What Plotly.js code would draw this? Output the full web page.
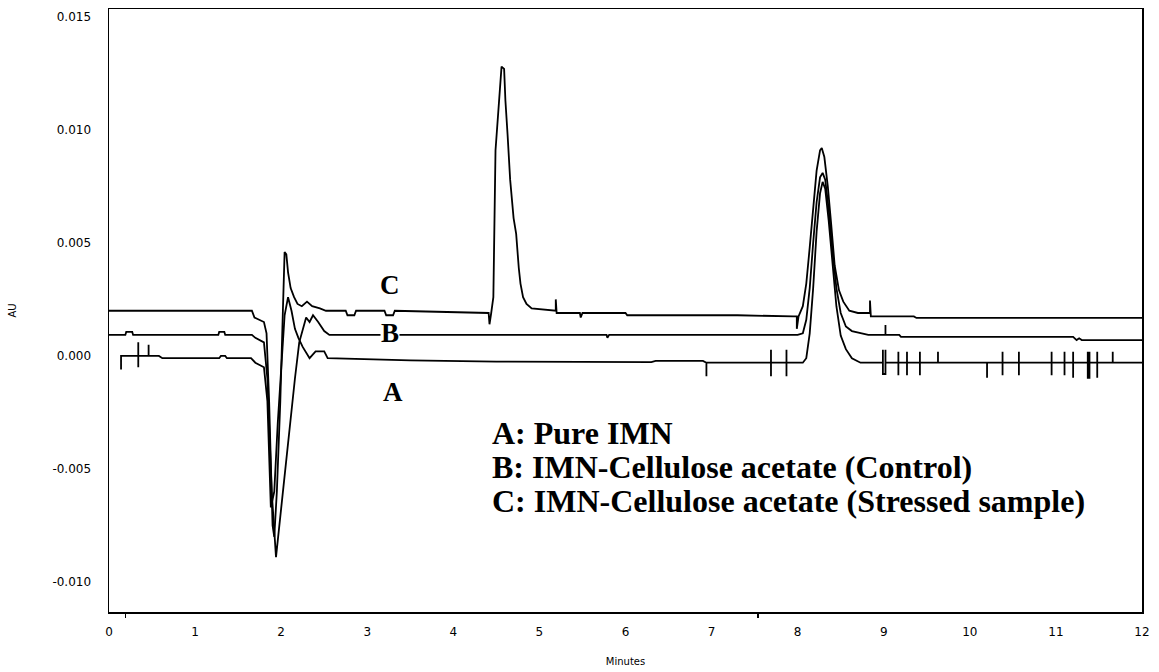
<!DOCTYPE html>
<html>
<head>
<meta charset="utf-8">
<script src="https://cdn.plot.ly/plotly-3.0.1.min.js"></script>
<style>html,body{margin:0;padding:0;background:#fff;}#chart{width:1159px;height:672px;}</style>
</head>
<body>
<div id="chart"></div>
<script>
// Trace A: Pure IMN (minutes, AU)
const aX = [0.14,0.14,0.34,0.34,0.34,0.34,0.46,0.46,0.46,0.58,0.62,1.28,1.30,1.35,1.37,1.65,1.70,1.80,1.84,1.88,1.92,1.96,2.00,2.04,2.08,2.12,2.16,2.20,2.25,2.33,2.40,2.50,2.54,3.5,4.5,6.3,6.35,6.9,
  6.94,6.94,6.94,7.69,7.69,7.69,7.69,7.87,7.87,7.87,7.87,
  8.06,8.10,8.14,8.18,8.22,8.26,8.29,8.32,8.36,8.40,8.45,8.50,8.56,8.63,8.73,
  8.99,8.99,8.99,9.02,9.02,9.02,9.17,9.17,9.17,9.17,9.27,9.27,9.27,9.27,9.42,9.42,9.42,9.42,9.63,9.63,9.63,
  10.20,10.20,10.20,10.38,10.38,10.38,10.38,10.57,10.57,10.57,10.57,10.95,10.95,10.95,10.95,11.10,11.10,11.10,11.10,
  11.20,11.20,11.20,11.20,11.37,11.37,11.37,11.39,11.39,11.39,11.48,11.48,11.48,11.48,11.66,11.66,11.66,12.0];
const aY = [-0.0006,0.0000,0.0000,0.0006,-0.0005,0.0000,0.0000,0.0005,0.0000,0.0000,-0.0001,-0.0001,0.0000,0.0000,-0.0001,-0.0001,-0.0003,-0.0005,-0.0020,-0.0067,-0.0060,-0.0030,-0.0005,0.0018,0.0026,0.0020,0.0012,0.0008,0.0004,-0.0001,0.0002,0.0002,-0.0001,-0.0002,-0.00025,-0.00027,-0.00022,-0.00022,
  -0.0003,-0.0009,-0.0003,-0.0003,0.00027,-0.0009,-0.0003,-0.0003,0.00027,-0.0009,-0.0003,
  -0.0003,-0.0001,0.0010,0.0030,0.0055,0.0072,0.0077,0.0074,0.0060,0.0042,0.0022,0.0009,0.0003,-0.0001,-0.0003,
  -0.0003,0.00027,-0.0008,-0.0008,0.00027,-0.0003,-0.0003,0.00018,-0.00085,-0.0003,-0.0003,0.00018,-0.00085,-0.0003,-0.0003,0.00018,-0.00085,-0.0003,-0.0003,0.00018,-0.0003,
  -0.0003,-0.00097,-0.0003,-0.0003,0.00018,-0.00085,-0.0003,-0.0003,0.00018,-0.00085,-0.0003,-0.0003,0.00018,-0.00085,-0.0003,-0.0003,0.00018,-0.00085,-0.0003,
  -0.0003,0.00018,-0.00097,-0.0003,-0.0003,0.00018,-0.00097,-0.00097,0.00018,-0.0003,-0.0003,0.00018,-0.00097,-0.0003,-0.0003,0.00018,-0.0003,-0.0003];

// Trace B: IMN-Cellulose acetate (Control)
const bX = [0.0,0.19,0.20,0.27,0.28,1.27,1.28,1.34,1.35,1.66,1.70,1.80,1.84,1.89,1.94,1.97,2.00,2.04,2.10,2.16,2.21,2.25,2.29,2.33,2.37,2.43,2.50,2.56,5.78,5.79,5.81,
  8.00,8.06,8.10,8.14,8.18,8.22,8.26,8.29,8.32,8.36,8.40,8.45,8.50,8.56,8.63,8.75,8.82,9.02,9.02,9.02,9.18,9.20,11.20,11.24,11.27,11.30,12.0];
const bY = [0.00093,0.00093,0.00106,0.00106,0.00093,0.00093,0.00106,0.00106,0.00093,0.00093,0.0008,0.0006,-0.0010,-0.0060,-0.0089,-0.0078,-0.0067,-0.0052,-0.0032,-0.0010,0.0006,0.0012,0.0017,0.0015,0.0018,0.0015,0.0011,0.00093,0.00093,0.0008,0.00093,
  0.00093,0.0010,0.0016,0.0030,0.0050,0.0068,0.0079,0.0081,0.0078,0.0065,0.0048,0.0030,0.0019,0.0013,0.0011,0.0010,0.00093,0.00093,0.00137,0.00093,0.00093,0.00084,0.00084,0.0007,0.00078,0.0007,0.0007];

// Trace C: IMN-Cellulose acetate (Stressed sample)
const cX = [0.0,1.66,1.69,1.80,1.83,1.86,1.90,1.92,1.95,1.99,2.02,2.04,2.06,2.08,2.11,2.15,2.19,2.24,2.30,2.36,2.45,2.52,2.75,2.77,2.85,2.87,3.20,3.22,3.30,3.32,
  4.41,4.42,4.44,4.465,4.49,4.535,4.56,4.59,4.605,4.63,4.66,4.70,4.73,4.76,4.78,4.81,4.85,4.91,5.12,5.19,5.19,5.20,5.47,5.48,5.50,6.0,6.02,7.3,
  7.95,7.99,7.99,8.01,8.06,8.10,8.14,8.18,8.22,8.26,8.28,8.31,8.35,8.39,8.43,8.48,8.53,8.60,8.70,8.84,8.84,8.85,9.35,9.38,12.0];
const cY = [0.0020,0.0020,0.0017,0.0015,0.0010,-0.0020,-0.0075,-0.0080,-0.0060,-0.0020,0.0020,0.0046,0.0045,0.0037,0.0030,0.0026,0.0023,0.0022,0.0024,0.0022,0.0021,0.0020,0.0020,0.0018,0.0018,0.0020,0.0020,0.0018,0.0018,0.0020,
  0.0019,0.0014,0.0019,0.0026,0.0091,0.0115,0.0128,0.0127,0.0113,0.0098,0.0078,0.0061,0.0054,0.0039,0.0032,0.0026,0.0023,0.0021,0.0020,0.0020,0.0025,0.0019,0.0019,0.0017,0.0019,0.0019,0.0018,0.0018,
  0.00175,0.00175,0.0012,0.00175,0.0022,0.0032,0.0048,0.0067,0.0082,0.0091,0.0092,0.0088,0.0075,0.0058,0.0040,0.0029,0.0024,0.0020,0.0019,0.0019,0.00245,0.00175,0.00175,0.00168,0.00168];

const xTickVals = [0,1,2,3,4,5,6,7,8,9,10,11,12];
const xTickText = ["0","1","2","3","4","5","6","7","8","9","10","11","12"];
const yTickVals = [0.015,0.010,0.005,0.000,-0.005,-0.010];
const yTickText = ["0.015","0.010","0.005","0.000","-0.005","-0.010"];
const minorTickVals = [0.19,7.54];

const traceLabels = ["A","B","C"];
const labelX = [3.30,3.26,3.26];
const labelY = [-0.0016,0.00102,0.00314];
const legendLines = ["A: Pure IMN","B: IMN-Cellulose acetate (Control)","C: IMN-Cellulose acetate (Stressed sample)"];
const legendY = [-0.0034,-0.0049,-0.0064];

const lineStyle = {color:'#000', width:1.8};
const traces = [
  {x:aX, y:aY, type:'scatter', mode:'lines', line:lineStyle, hoverinfo:'skip', name:'A'},
  {x:bX, y:bY, type:'scatter', mode:'lines', line:lineStyle, hoverinfo:'skip', name:'B'},
  {x:cX, y:cY, type:'scatter', mode:'lines', line:lineStyle, hoverinfo:'skip', name:'C'}
];

const serifFam = '"Liberation Serif", "Times New Roman", serif';
const labelFont = {family:serifFam, size:27, color:'#000', weight:'bold'};
const legendFont = {family:serifFam, size:32, color:'#000', weight:'bold'};
const annotations = [];
traceLabels.forEach((t,i)=>annotations.push({x:labelX[i], y:labelY[i], xref:'x', yref:'y', text:'<b>'+t+'</b>', showarrow:false, font:labelFont, bgcolor:'#fff', borderpad:0}));
legendLines.forEach((t,i)=>annotations.push({x:4.43, y:legendY[i], xref:'x', yref:'y', xanchor:'left', text:'<b>'+t+'</b>', showarrow:false, font:legendFont}));

const tickFont = {family:'"DejaVu Sans", Arial, sans-serif', size:12, color:'#000'};
const layout = {
  width:1159, height:672,
  margin:{l:109, r:17, t:9, b:60},
  paper_bgcolor:'#fff', plot_bgcolor:'#fff',
  showlegend:false,
  xaxis:{range:[0,12], tickmode:'array', tickvals:xTickVals, ticktext:xTickText, ticks:'', showgrid:false, zeroline:false,
    showline:true, mirror:true, linecolor:'#000', linewidth:1.5, tickfont:tickFont, ticklabelstandoff:8,
    minor:{tickmode:'array', tickvals:minorTickVals, ticks:'outside', ticklen:4, tickwidth:1.5, tickcolor:'#000', showgrid:false},
    title:{text:'Minutes', font:{family:'"DejaVu Sans", Arial, sans-serif', size:10, color:'#000'}, standoff:20}},
  yaxis:{range:[-0.01133,0.01535], tickmode:'array', tickvals:yTickVals, ticktext:yTickText, ticks:'', showgrid:false, zeroline:false,
    showline:true, mirror:true, linecolor:'#000', linewidth:1.5, tickfont:tickFont, ticklabelstandoff:14,
    title:{text:'AU', font:{family:'"DejaVu Sans", Arial, sans-serif', size:10, color:'#000'}, standoff:34}},
  annotations:annotations
};
Plotly.newPlot('chart', traces, layout, {staticPlot:true, displayModeBar:false});
</script>
</body>
</html>
